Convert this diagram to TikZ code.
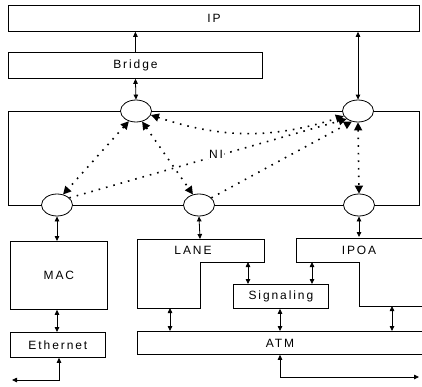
\documentclass[tikz,border=0pt]{standalone}
\usepackage{fontspec}
\setmainfont{Liberation Sans}[LetterSpace=16]
\usetikzlibrary{arrows.meta,shapes.geometric}
\begin{document}
\begin{tikzpicture}[x=1pt,y=-1pt,
  line width=0.8pt,
  box/.style={draw, inner sep=0pt, anchor=north west, font=\fontsize{12}{14}\selectfont},
  plain/.style={inner sep=0pt, font=\fontsize{12}{14}\selectfont},
  port/.style={draw, ellipse, fill=white, minimum width=31pt, minimum height=22pt, inner sep=0pt},
  link/.style={{Triangle[length=5pt,width=4.5pt]}-{Triangle[length=5pt,width=4.5pt]}},
  uplink/.style={-{Triangle[length=5pt,width=4.5pt]}},
  dotlink/.style={line width=1.6pt, dash pattern=on 1.6pt off 6pt,
     {Triangle[length=8pt,width=8pt]}-{Triangle[length=8pt,width=8pt]}},
  dotone/.style={line width=1.6pt, dash pattern=on 1.6pt off 6pt,
     -{Triangle[length=8pt,width=8pt]}}]
\useasboundingbox (0,0) rectangle (422,386);

% boxes
\node[box, minimum width=411pt, minimum height=26pt] (ip) at (8,5) {IP};
\node[box, minimum width=254pt, minimum height=26pt] (bridge) at (8,52) {Bridge};
\node[box, minimum width=411pt, minimum height=94pt] (net) at (8,111) {};
\node[box, minimum width=97pt, minimum height=68pt] (mac) at (10,241) {MAC};
\node[box, minimum width=95pt, minimum height=25pt] (eth) at (10,332) {Ethernet};
\node[box, minimum width=95pt, minimum height=24pt] (sig) at (233,284) {Signaling};
\node[box, draw=none, minimum width=285pt, minimum height=23pt] (atm) at (137,331) {ATM};
\draw (atm.north east) -- (atm.north west) -- (atm.south west) -- (atm.south east);

% LANE and IPOA shapes
\draw (137,239) -- (264,239) -- (264,262) -- (200,262) -- (200,308) -- (137,308) -- cycle;
\node[plain] (lane) at (193,250) {LANE};
\draw (422,238) -- (296,238) -- (296,262) -- (359,262) -- (359,306) -- (422,306);
\node[plain] (ipoa) at (359,250) {IPOA};

% ports
\node[port] (e1) at (136,111) {};
\node[port] (e2) at (358,111) {};
\node[port] (e3) at (57,205) {};
\node[port] (e4) at (199,205) {};
\node[port] (e5) at (359,205) {};

% coordinates
\coordinate (lanetop) at (200,239);
\coordinate (ipoatop) at (359,237);
\coordinate (lanesig) at (248,262);
\coordinate (ipoasig) at (312,262);
\coordinate (laneatm) at (170,308);
\coordinate (ipoaatm) at (392,306);
\coordinate (ethc) at (59,380);
\coordinate (ethend) at (12,380);
\coordinate (atmc) at (280,377);
\coordinate (atmend) at (419,377);

% solid links
\draw[uplink] (bridge.north) -- (bridge.north |- ip.south);
\draw[link] (bridge.south) -- (e1.north);
\draw[link] (e2.north |- ip.south) -- (e2.north);
\draw[link] (e3.south) -- (e3.south |- mac.north);
\draw[link] (e4.south) -- (lanetop);
\draw[link] (e5.south) -- (ipoatop);
\draw[link] (e3.south |- mac.south) -- (e3.south |- eth.north);
\draw[link] (eth.south -| ethc) -- (ethc) -- (ethend);
\draw[link] (lanesig) -- (lanesig |- sig.north);
\draw[link] (ipoasig) -- (ipoasig |- sig.north);
\draw[link] (laneatm) -- (laneatm |- atm.north);
\draw[link] (sig.south -| atmc) -- (atm.north -| atmc);
\draw[link] (ipoaatm) -- (ipoaatm |- atm.north);
\draw[link] (atm.south -| atmc) -- (atmc) -- (atmend);

% dotted links
\draw[dotlink] (e1.235) -- (e3.60);
\draw[dotlink] (e1.300) -- (e4.120);
\draw[dotlink] (e1.-15) to[bend right=18] (e2.200);
\draw[dotone] (e3.30) -- (e2.215);
\draw[dotone] (e4.30) -- (e2.240);
\draw[dotlink] (e2.south) -- (e5.north);

\node[plain, fill=white, inner sep=1pt] (ni) at (216,154) {NI};
\end{tikzpicture}
\end{document}
